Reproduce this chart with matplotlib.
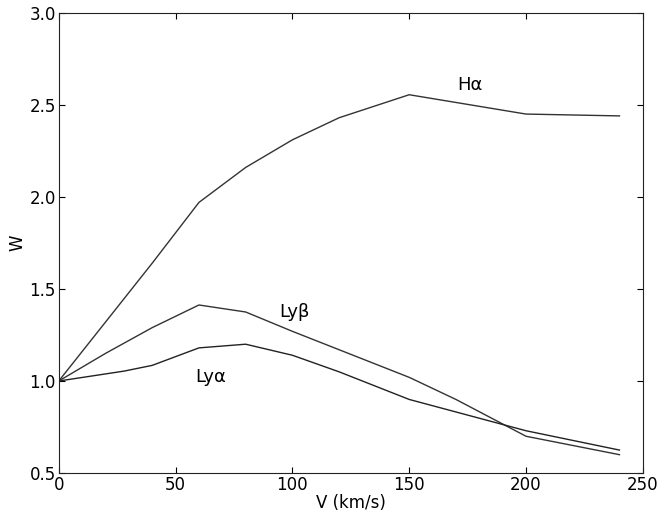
import matplotlib
matplotlib.use("Agg")
import matplotlib.pyplot as plt

# velocity grid (km/s)
v_ha = [0, 20, 40, 60, 80, 100, 120, 150, 200, 240]
w_ha = [1.0, 1.32, 1.64, 1.97, 2.16, 2.31, 2.43, 2.555, 2.45, 2.44]

v_lyb = [0, 20, 40, 60, 80, 100, 120, 150, 170, 200, 240]
w_lyb = [1.0, 1.15, 1.29, 1.413, 1.375, 1.27, 1.17, 1.02, 0.90, 0.70, 0.60]

v_lya = [0, 28, 40, 60, 80, 100, 120, 150, 200, 240]
w_lya = [1.0, 1.054, 1.085, 1.18, 1.20, 1.14, 1.05, 0.90, 0.73, 0.625]

plt.rcParams["font.family"] = "DejaVu Sans"
plt.rcParams["font.size"] = 12

fig = plt.figure(figsize=(6.6, 5.12), dpi=100)
ax = fig.add_axes([0.089, 0.076, 0.885, 0.899])

ax.plot(v_ha, w_ha, color="#333333", lw=1.0)
ax.plot(v_lyb, w_lyb, color="#333333", lw=1.0)
ax.plot(v_lya, w_lya, color="#222222", lw=1.0)

ax.text(176, 2.61, "H\u03b1", ha="center", va="center", fontsize=13)
ax.text(101, 1.375, "Ly\u03b2", ha="center", va="center", fontsize=13)
ax.text(65, 1.02, "Ly\u03b1", ha="center", va="center", fontsize=13)

ax.set_xlim(0, 250)
ax.set_ylim(0.5, 3.0)
ax.set_xticks([0, 50, 100, 150, 200, 250])
ax.set_yticks([0.5, 1.0, 1.5, 2.0, 2.5, 3.0])
ax.tick_params(direction="in", top=True, right=True, length=4, labelsize=12, pad=2)
for s in ax.spines.values():
    s.set_color("#222222")
ax.set_xlabel("V (km/s)", fontsize=12, labelpad=0)
ax.set_ylabel("W", fontsize=12, labelpad=2)

fig.savefig("out.png", dpi=100)
